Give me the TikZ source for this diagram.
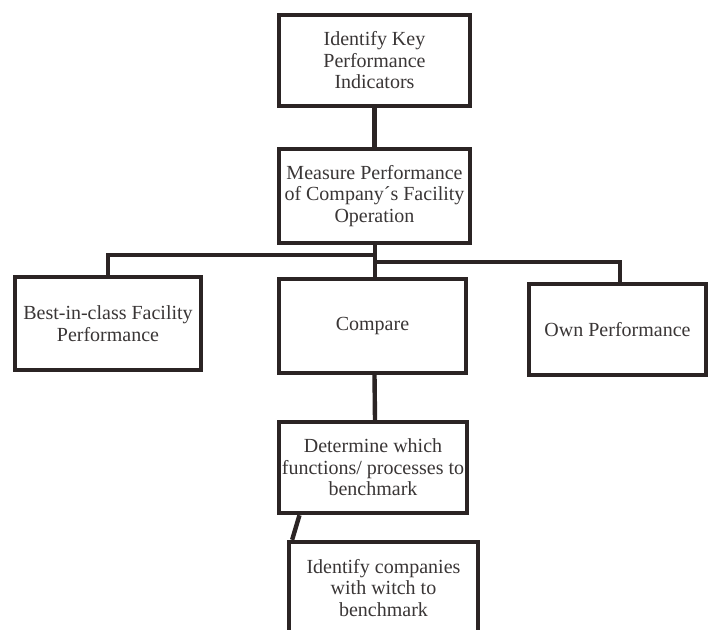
\documentclass[tikz,border=0pt]{standalone}
\usepackage{fontspec}
\setmainfont{Liberation Serif}
\usetikzlibrary{calc}
\definecolor{edge}{HTML}{2B2424}
\definecolor{ink}{HTML}{3A3636}
\tikzset{
  box/.style 2 args={draw=edge, line width=3.3pt, rectangle, inner sep=0pt,
    minimum width={#1*0.75pt}, minimum height={#2*0.75pt},
    align=center, text=ink, font=\fontsize{15pt}{16.1pt}\selectfont},
  link/.style={draw=edge, line width=3.3pt}
}
\begin{document}
\begin{tikzpicture}[x=0.75pt, y=-0.75pt]
  \useasboundingbox (0,0) rectangle (710,630);
  \clip (0,0) rectangle (710,630);
  \fill[white] (0,0) rectangle (710,630);

  % boxes (centre, then width and height of the frame line)
  \node[box={191}{91}] (kpi) at (374.5,60.5) {Identify Key\\Performance\\Indicators};
  \node[box={191}{94}] (meas) at (374.5,196) {Measure Performance\\of Company´s Facility\\Operation};
  \node[box={186}{93}] (best) at (108,323.5) {Best-in-class Facility\\Performance};
  \node[box={187}{94}] (cmp) at (372.5,326) {Compare};
  \node[box={177}{91}] (own) at (617.5,329.5) {Own Performance};
  \node[box={188}{91}] (det) at (373,467.5) {Determine which\\functions/ processes to\\benchmark};
  \node[box={189}{92}] (idc) at (383.5,588) {Identify companies\\with witch to\\benchmark};

  % junctions of the branch lines
  \coordinate (jl) at (375,255);
  \coordinate (jr) at (375,262);
  \coordinate (owntop) at (620,284);
  \coordinate (cmptop) at (375,279);
  \coordinate (meabot) at (375,243);

  % connectors
  \draw[link] (kpi.south) -- (meas.north);
  \draw[link] (meabot) -- (cmptop);
  \draw[link] (jl) -| (best.north);
  \draw[link] (jr) -| (owntop);
  \draw[link] ([xshift=1.5]cmp.south) -- ([xshift=1.5]det.north);
  \draw[link] ([xshift=17]det.south west) -- ([xshift=4]idc.north west);
\end{tikzpicture}
\end{document}
